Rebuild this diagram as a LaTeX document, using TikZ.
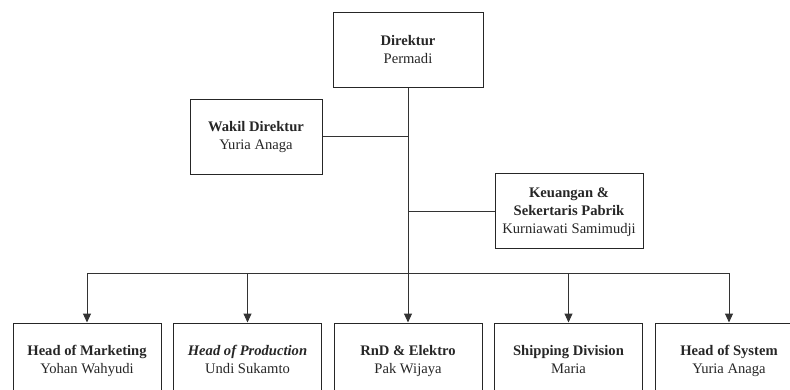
\documentclass[tikz,border=0pt]{standalone}
\usepackage{fontspec}
\setmainfont{Liberation Serif}
\usetikzlibrary{arrows.meta}
\newcommand{\post}[2]{#1\strut\\#2\strut}
\tikzset{
	unit/.style={draw=black!85, line width=1pt, align=center, inner sep=2pt,
		minimum width=148pt, minimum height=75pt, font=\fontsize{14.6}{18}\selectfont, text=black!85},
	link/.style={draw=black!80, line width=1pt},
	down/.style={link, -{Stealth[length=9pt, width=8pt, inset=0pt]}}
}
\begin{document}
\begin{tikzpicture}[x=1pt, y=-1pt]
	\useasboundingbox (0, 0) rectangle (790, 390);
	\clip (0, 0) rectangle (790, 390);
	% top of the chart
	\node[unit, minimum width=150pt] (dir) at (408, 50.5) {\post{\textbf{Direktur}}{Permadi}};
	\node[unit, minimum width=132pt] (wakil) at (256, 137) {\post{\textbf{Wakil Direktur}}{Yuria Anaga}};
	\node[unit] (keu) at (569, 211.5) {\textbf{Keuangan \&}\strut\\\textbf{Sekertaris Pabrik}\\Kurniawati Samimudji\strut};
	% divisions
	\node[unit] (mkt) at (87, 360.5) {\post{\textbf{Head of Marketing}}{Yohan Wahyudi}};
	\node[unit] (prod) at (247.5, 360.5) {\post{\textbf{\textit{Head of Production}}}{Undi Sukamto}};
	\node[unit] (rnd) at (408, 360.5) {\post{\textbf{RnD \& Elektro}}{Pak Wijaya}};
	\node[unit] (ship) at (568.5, 360.5) {\post{\textbf{Shipping Division}}{Maria}};
	\node[unit] (sys) at (729, 360.5) {\post{\textbf{Head of System}}{Yuria Anaga}};
	\coordinate (bus) at (408, 273);
	% connectors
	\draw[link] (dir.south) -- (bus);
	\draw[link] (wakil.east) -- (wakil.east -| dir.south);
	\draw[link] (keu.west) -- (keu.west -| dir.south);
	\foreach \d in {mkt, prod, rnd, ship, sys}
		\draw[down] (bus) -| (\d.north);
\end{tikzpicture}
\end{document}
